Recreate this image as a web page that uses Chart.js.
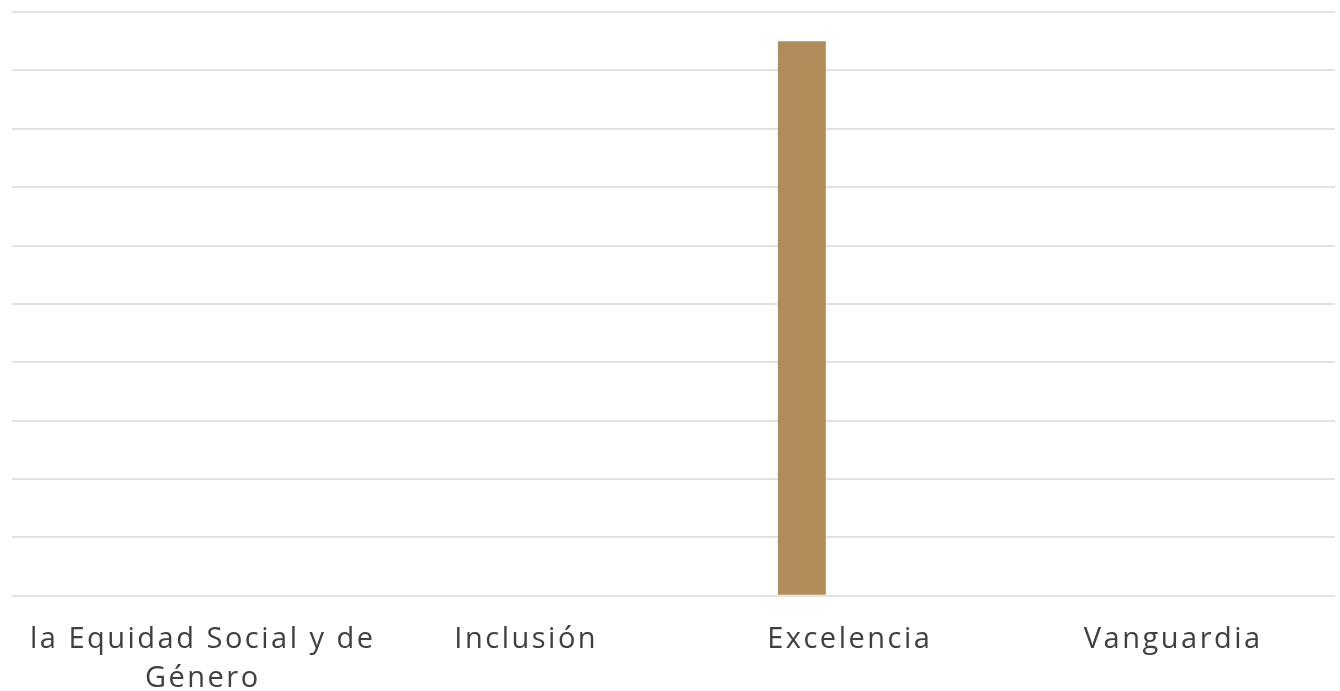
<!DOCTYPE html>
<html>
<head>
<meta charset="utf-8">
<script src="https://cdn.jsdelivr.net/npm/chart.js@4/dist/chart.umd.min.js"></script>
<style>
html,body{margin:0;padding:0;background:#fff;overflow:hidden;}
canvas{display:block;}
</style>
</head>
<body>
<canvas id="c" width="1340" height="691"></canvas>
<script>
const categories = [["la Equidad Social y de", "Género"], "Inclusión", "Excelencia", "Vanguardia"];
const serie1 = [0, 0, 9.5, 0];
const serie2 = [0, 0, 0, 0];
const serie3 = [0, 0, 0, 0];
const yMin = 0, yMax = 10, yStep = 1;

const spacingPlugin = {
  id: 'spacing',
  beforeDraw(chart) { chart.ctx.letterSpacing = '2.5px'; }
};

new Chart(document.getElementById('c'), {
  type: 'bar',
  data: {
    labels: categories,
    datasets: [
      { label: 'Serie 1', data: serie1, backgroundColor: '#B08C5B' },
      { label: 'Serie 2', data: serie2, backgroundColor: '#7F7F7F' },
      { label: 'Serie 3', data: serie3, backgroundColor: '#9B2247' }
    ]
  },
  options: {
    responsive: false,
    devicePixelRatio: 1,
    animation: false,
    categoryPercentage: 0.4444,
    barPercentage: 1,
    layout: { padding: { left: 12, right: 5, top: 12, bottom: -24 } },
    plugins: { legend: { display: false }, tooltip: { enabled: false } },
    scales: {
      x: {
        grid: { display: false },
        border: { display: false },
        ticks: {
          color: '#404040',
          font: { family: 'Open Sans', size: 29, lineHeight: 1.33 },
          padding: 17,
          maxRotation: 0,
          autoSkip: false
        }
      },
      y: {
        min: yMin, max: yMax,
        grid: { color: '#E2E2E2', lineWidth: 2, drawTicks: true, tickLength: 29 },
        border: { display: false },
        ticks: { display: false, stepSize: yStep }
      }
    }
  },
  plugins: [spacingPlugin]
});
</script>
</body>
</html>
